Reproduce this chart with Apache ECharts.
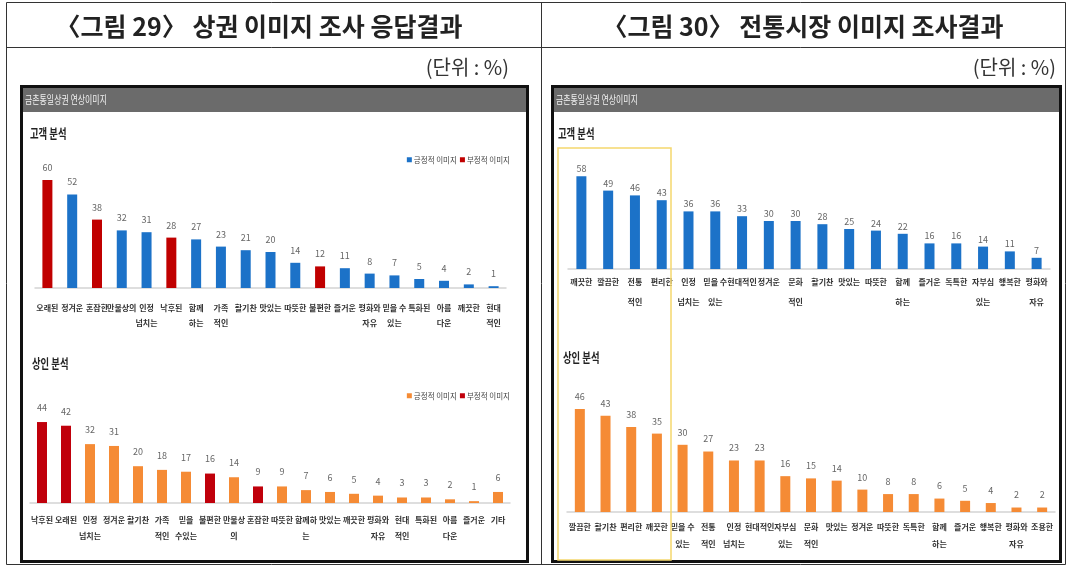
<!DOCTYPE html>
<html>
<head>
<meta charset="utf-8">
<script src="https://cdn.jsdelivr.net/npm/echarts@6/dist/echarts.min.js"></script>
<style>
html,body{margin:0;padding:0;background:#fff;}
#main{width:1071px;height:567px;}
</style>
</head>
<body>
<div id="main"></div>
<script>
// ---------- data ----------
const titleLeft = '〈그림 29〉 상권 이미지 조사 응답결과';
const titleRight = '〈그림 30〉 전통시장 이미지 조사결과';
const unitText = '(단위 : %)';
const panelHeader = '금촌통일상권 연상이미지';
const subCustomer = '고객 분석';
const subMerchant = '상인 분석';
const posName = '긍정적 이미지';
const negName = '부정적 이미지';

const cat1 = ['오래된','정겨운','혼잡한','만물상의','인정\n넘치는','낙후된','함께\n하는','가족\n적인','활기찬','맛있는','따뜻한','불편한','즐거운','평화와\n자유','믿을 수\n있는','특화된','아름\n다운','깨끗한','현대\n적인'];
const val1 = [60,52,38,32,31,28,27,23,21,20,14,12,11,8,7,5,4,2,1];
const neg1 = [1,0,1,0,0,1,0,0,0,0,0,1,0,0,0,0,0,0,0];

const cat2 = ['낙후된','오래된','인정\n넘치는','정겨운','활기찬','가족\n적인','믿을\n수있는','불편한','만물상\n의','혼잡한','따뜻한','함께하\n는','맛있는','깨끗한','평화와\n자유','현대\n적인','특화된','아름\n다운','즐거운','기타'];
const val2 = [44,42,32,31,20,18,17,16,14,9,9,7,6,5,4,3,3,2,1,6];
const neg2 = [1,1,0,0,0,0,0,1,0,1,0,0,0,0,0,0,0,0,0,0];

const cat3 = ['깨끗한','깔끔한','전통\n적인','편리한','인정\n넘치는','믿을 수\n있는','현대적인','정겨운','문화\n적인','활기찬','맛있는','따뜻한','함께\n하는','즐거운','독특한','자부심\n있는','행복한','평화와\n자유'];
const val3 = [58,49,46,43,36,36,33,30,30,28,25,24,22,16,16,14,11,7];

const cat4 = ['깔끔한','활기찬','편리한','깨끗한','믿을 수\n있는','전통\n적인','인정\n넘치는','현대적인','자부심\n있는','문화\n적인','맛있는','정겨운','따뜻한','독특한','함께\n하는','즐거운','행복한','평화와\n자유','조용한'];
const val4 = [46,43,38,35,30,27,23,23,16,15,14,10,8,8,6,5,4,2,2];

// ---------- styling / layout ----------
const FONT = "'Noto Sans CJK KR', 'Noto Sans', sans-serif";
const BLUE = '#1c72c8', RED = '#c00000', ORANGE = '#f58b35', DRED = '#c0000b';

const panels = [
  {cats:cat1, vals:val1, neg:neg1, pos:BLUE, negc:RED, grid:{left:35,width:471,top:180,height:108}, max:60, margin:12, lh:15, dist:8},
  {cats:cat2, vals:val2, neg:neg2, pos:ORANGE, negc:DRED, grid:{left:30,width:480,top:411,height:92}, max:50, margin:9, lh:16, dist:10},
  {cats:cat3, vals:val3, neg:null, pos:BLUE, grid:{left:568,width:482,top:173,height:96}, max:60, margin:3, lh:20, dist:3},
  {cats:cat4, vals:val4, neg:null, pos:ORANGE, grid:{left:567,width:488,top:400,height:112}, max:50, margin:6, lh:17, dist:8}
];

const grids = [], xAxes = [], yAxes = [], series = [];
panels.forEach((p, i) => {
  grids.push(Object.assign({containLabel:false}, p.grid));
  xAxes.push({
    type:'category', gridIndex:i, data:p.cats,
    axisLine:{lineStyle:{color:'#d4d4d4', width:1.5}},
    axisTick:{show:false},
    axisLabel:{interval:0, fontSize:8, lineHeight:p.lh, margin:p.margin, color:'#333', fontWeight:'bold', fontFamily:FONT}
  });
  yAxes.push({type:'value', gridIndex:i, min:0, max:p.max, show:false, splitLine:{show:false}});
  const lbl = {show:true, position:'top', distance:p.dist, fontSize:9, color:'#666', fontFamily:FONT};
  if (p.neg) {
    series.push({name:posName, type:'bar', stack:'s'+i, xAxisIndex:i, yAxisIndex:i, barWidth:10,
      itemStyle:{color:p.pos}, label:lbl,
      data:p.vals.map((v,k)=> p.neg[k] ? '-' : v)});
    series.push({name:negName, type:'bar', stack:'s'+i, xAxisIndex:i, yAxisIndex:i, barWidth:10,
      itemStyle:{color:p.negc}, label:lbl,
      data:p.vals.map((v,k)=> p.neg[k] ? v : '-')});
  } else {
    series.push({name:'s'+i, type:'bar', xAxisIndex:i, yAxisIndex:i, barWidth:10,
      itemStyle:{color:p.pos}, label:lbl, data:p.vals});
  }
});

function legendFor(top, pc, nc) {
  return {
    right:556, top:top, itemWidth:5, itemHeight:5, itemGap:3, icon:'rect',
    textStyle:{fontSize:7.5, color:'#444', fontFamily:FONT, padding:[0,0,0,-3]},
    selectedMode:false,
    data:[{name:posName, itemStyle:{color:pc}}, {name:negName, itemStyle:{color:nc}}]
  };
}

function txt(x, y, text, size, opts) {
  opts = opts || {};
  return {type:'text', x:x, y:y, scaleX:opts.sx||1, z:10,
    style:{text:text, fill:opts.fill||'#222', fontSize:size, fontWeight:opts.w||'normal', fontFamily:FONT,
      textAlign:opts.align||'left', textVerticalAlign:'middle'}};
}

const graphics = [
  {type:'rect', shape:{x:6.5,y:2.5,width:1059,height:562}, style:{fill:'none', stroke:'#333', lineWidth:1}},
  {type:'line', shape:{x1:6.5,y1:47.5,x2:1065.5,y2:47.5}, style:{stroke:'#333', lineWidth:1}},
  {type:'line', shape:{x1:541.5,y1:2.5,x2:541.5,y2:564.5}, style:{stroke:'#333', lineWidth:1}},
  txt(259, 26, titleLeft, 25, {w:'bold', align:'center'}),
  txt(803, 26, titleRight, 25, {w:'bold', align:'center'}),
  txt(509, 67, unitText, 20, {align:'right', fill:'#333'}),
  txt(1056, 67, unitText, 20, {align:'right', fill:'#333'}),
  // frames
  {type:'rect', shape:{x:21.5,y:86.5,width:506,height:475}, style:{fill:'#fff', stroke:'#111', lineWidth:3}},
  {type:'rect', shape:{x:552.5,y:86.5,width:508,height:475}, style:{fill:'#fff', stroke:'#111', lineWidth:3}},
  {type:'rect', shape:{x:23,y:88,width:503,height:24}, style:{fill:'#6b6b6b'}},
  {type:'rect', shape:{x:554,y:88,width:505,height:24}, style:{fill:'#6b6b6b'}},
  txt(25, 100, panelHeader, 11, {fill:'#f2f2f2', sx:0.72}),
  txt(556, 100, panelHeader, 11, {fill:'#f2f2f2', sx:0.72}),
  txt(30, 133, subCustomer, 13, {w:'bold', sx:0.72}),
  txt(32, 363, subMerchant, 13, {w:'bold', sx:0.72}),
  txt(558, 133, subCustomer, 13, {w:'bold', sx:0.72}),
  txt(563, 357, subMerchant, 13, {w:'bold', sx:0.72}),
  {type:'rect', shape:{x:558,y:148,width:113,height:412}, style:{fill:'none', stroke:'#f5d76e', lineWidth:1.5}, z:5}
];

const chart = echarts.init(document.getElementById('main'));
chart.setOption({
  animation:false,
  textStyle:{fontFamily:FONT},
  grid:grids, xAxis:xAxes, yAxis:yAxes, series:series,
  legend:[legendFor(151, BLUE, RED), legendFor(387, ORANGE, DRED)],
  graphic:graphics
});
</script>
</body>
</html>
